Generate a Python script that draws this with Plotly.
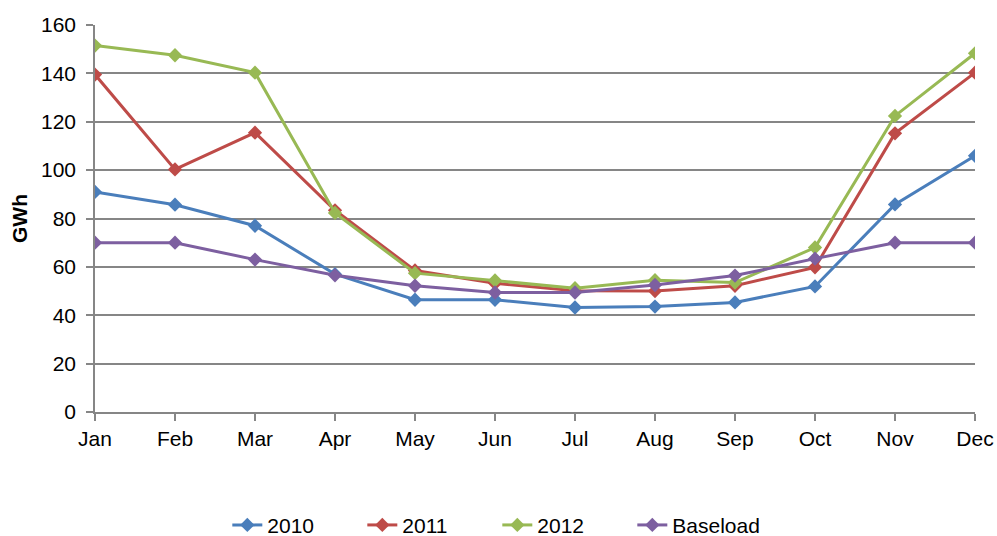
import plotly.graph_objects as go

months = ["Jan", "Feb", "Mar", "Apr", "May", "Jun", "Jul", "Aug", "Sep", "Oct", "Nov", "Dec"]
gwh_2010 = [91, 85.7, 77, 57, 46.4, 46.4, 43.2, 43.6, 45.3, 51.9, 85.8, 105.9]
gwh_2011 = [139.5, 100.3, 115.5, 83.4, 58.5, 53.2, 50.1, 50, 52.2, 59.8, 115.2, 140.3]
gwh_2012 = [151.5, 147.5, 140.3, 82.3, 57.4, 54.4, 51.2, 54.5, 53.5, 68, 122.4, 148.3]
baseload = [70, 70, 63, 56.5, 52.2, 49.4, 49.4, 52.5, 56.4, 63.4, 70, 70]
yticks = [0, 20, 40, 60, 80, 100, 120, 140, 160]

series = [
    ("2010", gwh_2010, "#4A7EBB"),
    ("2011", gwh_2011, "#BE4B48"),
    ("2012", gwh_2012, "#98B954"),
    ("Baseload", baseload, "#7D5FA0"),
]

fig = go.Figure()
for name, vals, color in series:
    fig.add_trace(go.Scatter(
        x=list(range(len(months))), y=vals, name=name, mode="lines+markers",
        line=dict(color=color, width=3),
        marker=dict(symbol="diamond", size=11, color=color),
    ))

font = dict(family="Liberation Sans, Arial, sans-serif", size=21, color="#000000")
axis_grey = "#868686"
fig.update_layout(
    width=997, height=536,
    margin=dict(l=95, r=22, t=25, b=124),
    paper_bgcolor="white", plot_bgcolor="white",
    font=font,
    showlegend=True,
    legend=dict(orientation="h", xref="container", yref="container",
                x=0.228, xanchor="left", y=0.02, yanchor="middle",
                font=font, entrywidth=90, entrywidthmode="pixels", tracegroupgap=0),
    xaxis=dict(
        range=[0, 11], tickvals=list(range(len(months))), ticktext=months,
        showgrid=False, zeroline=False, automargin=False,
        showline=True, linecolor=axis_grey, linewidth=1.5,
        ticks="outside", ticklen=7, tickcolor=axis_grey, tickwidth=1.5,
        tickfont=font,
    ),
    yaxis=dict(
        range=[0, 160], tickvals=yticks, showgrid=True, gridcolor=axis_grey, gridwidth=1.5,
        zeroline=False, showline=True, linecolor=axis_grey, linewidth=1.5, automargin=False,
        ticks="outside", ticklen=7, tickcolor=axis_grey, tickwidth=1.5,
        ticklabelstandoff=6, tickfont=font,
        title=dict(text="<b>GWh</b>", font=font, standoff=8),
    ),
)

fig.write_html("out.html")
